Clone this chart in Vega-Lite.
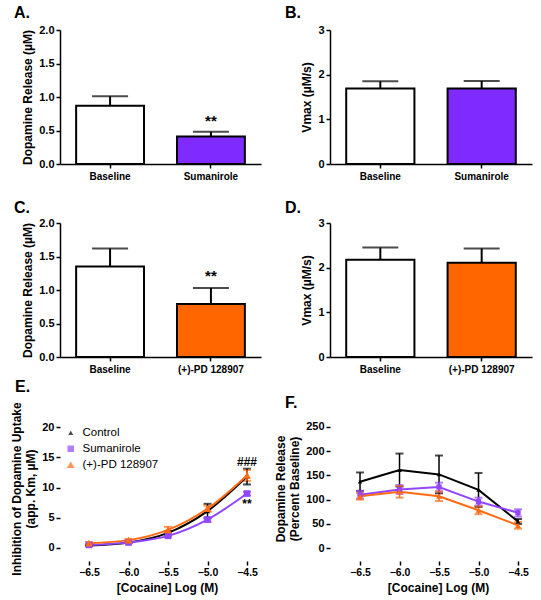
{
  "$schema": "https://vega.github.io/schema/vega-lite/v6.json",
  "padding": {"left": 10, "top": 5, "right": 5, "bottom": 5},
  "config": {
    "font": "Liberation Sans",
    "view": {"stroke": null},
    "axis": {"labelFont": "Liberation Sans", "labelFontWeight": "bold", "labelFontSize": 10, "labelColor": "#000", "titleFont": "Liberation Sans", "titleFontWeight": "bold", "titleFontSize": 12, "titleColor": "#000", "domainColor": "#000", "domainWidth": 1.5, "tickColor": "#000", "tickWidth": 1.5, "tickSize": 4, "grid": false, "labelPadding": 2, "labelOverlap": false},
    "axisY": {"labelFontSize": 11},
    "legend": {"title": null, "orient": "none", "legendX": 5, "legendY": 11, "labelFont": "Liberation Sans", "labelFontSize": 11.5, "labelFontWeight": "normal", "labelColor": "#000", "symbolSize": 256, "symbolStrokeWidth": 0, "rowPadding": 3, "labelOffset": 6},
    "title": {"font": "Liberation Sans", "fontSize": 16, "fontWeight": "bold", "color": "#000", "anchor": "start", "frame": "group"}
  },
  "datasets": {
    "barsA": [{"group": "Baseline", "mean": 0.87, "hi": 1.01}, {"group": "Sumanirole", "mean": 0.41, "hi": 0.48}],
    "starsA": [{"group": "Sumanirole", "mean": 0.64, "label": "**"}],
    "barsB": [{"group": "Baseline", "mean": 1.69, "hi": 1.85}, {"group": "Sumanirole", "mean": 1.69, "hi": 1.86}],
    "barsC": [{"group": "Baseline", "mean": 1.35, "hi": 1.62}, {"group": "(+)-PD 128907", "mean": 0.79, "hi": 1.03}],
    "starsC": [{"group": "(+)-PD 128907", "mean": 1.21, "label": "**"}],
    "barsD": [{"group": "Baseline", "mean": 2.18, "hi": 2.45}, {"group": "(+)-PD 128907", "mean": 2.11, "hi": 2.43}],
    "uptake": [
      {"series": "Control", "x": -6.5, "y": 0.4, "lo": 0.3, "hi": 0.5},
      {"series": "Control", "x": -6.0, "y": 0.9, "lo": 0.8, "hi": 1.0},
      {"series": "Control", "x": -5.5, "y": 2.5, "lo": 2.2, "hi": 2.8},
      {"series": "Control", "x": -5.0, "y": 6.1, "lo": 4.9, "hi": 7.3},
      {"series": "Control", "x": -4.5, "y": 11.8, "lo": 10.5, "hi": 13.1},
      {"series": "Sumanirole", "x": -6.5, "y": 0.5, "lo": 0.4, "hi": 0.6},
      {"series": "Sumanirole", "x": -6.0, "y": 0.9, "lo": 0.8, "hi": 1.0},
      {"series": "Sumanirole", "x": -5.5, "y": 2.0, "lo": 1.8, "hi": 2.2},
      {"series": "Sumanirole", "x": -5.0, "y": 4.7, "lo": 4.3, "hi": 5.1},
      {"series": "Sumanirole", "x": -4.5, "y": 9.0, "lo": 8.7, "hi": 9.3},
      {"series": "(+)-PD 128907", "x": -6.5, "y": 0.8, "lo": 0.6, "hi": 1.0},
      {"series": "(+)-PD 128907", "x": -6.0, "y": 1.3, "lo": 1.1, "hi": 1.5},
      {"series": "(+)-PD 128907", "x": -5.5, "y": 3.0, "lo": 2.5, "hi": 3.5},
      {"series": "(+)-PD 128907", "x": -5.0, "y": 6.5, "lo": 6.0, "hi": 7.0},
      {"series": "(+)-PD 128907", "x": -4.5, "y": 12.0, "lo": 11.1, "hi": 12.9}
    ],
    "annotE": [{"x": -4.5, "y": 14.2, "label": "###"}, {"x": -4.5, "y": 7.2, "label": "**"}],
    "release": [
      {"series": "Control", "x": -6.5, "y": 137, "lo": 118, "hi": 156},
      {"series": "Control", "x": -6.0, "y": 161, "lo": 127, "hi": 195},
      {"series": "Control", "x": -5.5, "y": 152, "lo": 113, "hi": 191},
      {"series": "Control", "x": -5.0, "y": 120, "lo": 85, "hi": 155},
      {"series": "Control", "x": -4.5, "y": 55, "lo": 50, "hi": 60},
      {"series": "Sumanirole", "x": -6.5, "y": 110, "lo": 102, "hi": 118},
      {"series": "Sumanirole", "x": -6.0, "y": 121, "lo": 112, "hi": 130},
      {"series": "Sumanirole", "x": -5.5, "y": 126, "lo": 117, "hi": 135},
      {"series": "Sumanirole", "x": -5.0, "y": 96, "lo": 88, "hi": 104},
      {"series": "Sumanirole", "x": -4.5, "y": 73, "lo": 65, "hi": 80},
      {"series": "(+)-PD 128907", "x": -6.5, "y": 107, "lo": 100, "hi": 114},
      {"series": "(+)-PD 128907", "x": -6.0, "y": 116, "lo": 104, "hi": 128},
      {"series": "(+)-PD 128907", "x": -5.5, "y": 107, "lo": 97, "hi": 117},
      {"series": "(+)-PD 128907", "x": -5.0, "y": 78, "lo": 70, "hi": 86},
      {"series": "(+)-PD 128907", "x": -4.5, "y": 47, "lo": 40, "hi": 54}
    ],
    "one": [{"axis": "line"}]
  },
  "resolve": {"scale": {"fill": "independent", "stroke": "independent", "color": "independent", "shape": "independent", "size": "independent"}},
  "bounds": "flush",
  "columns": 2,
  "spacing": {"row": 59, "column": 69},
  "concat": [
    {
      "width": 201, "height": 134,
      "title": {"text": "A.", "dx": -46, "offset": 3},
      "data": {"name": "barsA"},
      "encoding": {
        "x": {"field": "group", "type": "nominal", "sort": null, "scale": {"paddingInner": 0.327, "paddingOuter": 0.16}, "axis": {"title": null, "labelAngle": 0, "labelPadding": 3}},
        "y": {"field": "mean", "type": "quantitative", "scale": {"domain": [0, 2], "nice": false}, "axis": {"title": "Dopamine Release (µM)", "values": [0, 0.5, 1, 1.5, 2], "format": ".1f"}}
      },
      "layer": [
        {"mark": {"type": "bar", "stroke": "#000", "strokeWidth": 2},
         "encoding": {"fill": {"field": "group", "type": "nominal", "scale": {"domain": ["Baseline", "Sumanirole", "(+)-PD 128907"], "range": ["#ffffff", "#7F2BFF", "#FF6600"]}, "legend": null}}},
        {"mark": {"type": "rule", "strokeWidth": 2, "color": "#000"}, "encoding": {"y2": {"field": "hi"}}},
        {"mark": {"type": "tick", "orient": "horizontal", "size": 36, "thickness": 2, "color": "#000"}, "encoding": {"y": {"field": "hi", "type": "quantitative", "axis": {"title": "Dopamine Release (µM)", "values": [0, 0.5, 1, 1.5, 2], "format": ".1f"}}}},
        {"data": {"name": "starsA"}, "mark": {"type": "text", "fontSize": 15, "fontWeight": "bold", "color": "#000", "baseline": "middle"}, "encoding": {"text": {"field": "label"}}}
      ]
    },
    {
      "width": 202, "height": 134,
      "title": {"text": "B.", "dx": -45, "offset": 3},
      "data": {"name": "barsB"},
      "encoding": {
        "x": {"field": "group", "type": "nominal", "sort": null, "scale": {"paddingInner": 0.327, "paddingOuter": 0.16}, "axis": {"title": null, "labelAngle": 0, "labelPadding": 3}},
        "y": {"field": "mean", "type": "quantitative", "scale": {"domain": [0, 3], "nice": false}, "axis": {"title": "Vmax (µM/s)", "values": [0, 1, 2, 3]}}
      },
      "layer": [
        {"mark": {"type": "bar", "stroke": "#000", "strokeWidth": 2},
         "encoding": {"fill": {"field": "group", "type": "nominal", "scale": {"domain": ["Baseline", "Sumanirole", "(+)-PD 128907"], "range": ["#ffffff", "#7F2BFF", "#FF6600"]}, "legend": null}}},
        {"mark": {"type": "rule", "strokeWidth": 2, "color": "#000"}, "encoding": {"y2": {"field": "hi"}}},
        {"mark": {"type": "tick", "orient": "horizontal", "size": 36, "thickness": 2, "color": "#000"}, "encoding": {"y": {"field": "hi", "type": "quantitative", "axis": {"title": "Vmax (µM/s)", "values": [0, 1, 2, 3]}}}}
      ]
    },
    {
      "width": 201, "height": 134,
      "title": {"text": "C.", "dx": -46, "offset": 3, "dy": 2},
      "data": {"name": "barsC"},
      "encoding": {
        "x": {"field": "group", "type": "nominal", "sort": null, "scale": {"paddingInner": 0.327, "paddingOuter": 0.16}, "axis": {"title": null, "labelAngle": 0, "labelPadding": 3}},
        "y": {"field": "mean", "type": "quantitative", "scale": {"domain": [0, 2], "nice": false}, "axis": {"title": "Dopamine Release (µM)", "values": [0, 0.5, 1, 1.5, 2], "format": ".1f"}}
      },
      "layer": [
        {"mark": {"type": "bar", "stroke": "#000", "strokeWidth": 2},
         "encoding": {"fill": {"field": "group", "type": "nominal", "scale": {"domain": ["Baseline", "Sumanirole", "(+)-PD 128907"], "range": ["#ffffff", "#7F2BFF", "#FF6600"]}, "legend": null}}},
        {"mark": {"type": "rule", "strokeWidth": 2, "color": "#000"}, "encoding": {"y2": {"field": "hi"}}},
        {"mark": {"type": "tick", "orient": "horizontal", "size": 36, "thickness": 2, "color": "#000"}, "encoding": {"y": {"field": "hi", "type": "quantitative", "axis": {"title": "Dopamine Release (µM)", "values": [0, 0.5, 1, 1.5, 2], "format": ".1f"}}}},
        {"data": {"name": "starsC"}, "mark": {"type": "text", "fontSize": 15, "fontWeight": "bold", "color": "#000", "baseline": "middle"}, "encoding": {"text": {"field": "label"}}}
      ]
    },
    {
      "width": 202, "height": 134,
      "title": {"text": "D.", "dx": -45, "offset": 3, "dy": 2},
      "data": {"name": "barsD"},
      "encoding": {
        "x": {"field": "group", "type": "nominal", "sort": null, "scale": {"paddingInner": 0.327, "paddingOuter": 0.16}, "axis": {"title": null, "labelAngle": 0, "labelPadding": 3}},
        "y": {"field": "mean", "type": "quantitative", "scale": {"domain": [0, 3], "nice": false}, "axis": {"title": "Vmax (µM/s)", "values": [0, 1, 2, 3]}}
      },
      "layer": [
        {"mark": {"type": "bar", "stroke": "#000", "strokeWidth": 2},
         "encoding": {"fill": {"field": "group", "type": "nominal", "scale": {"domain": ["Baseline", "Sumanirole", "(+)-PD 128907"], "range": ["#ffffff", "#7F2BFF", "#FF6600"]}, "legend": null}}},
        {"mark": {"type": "rule", "strokeWidth": 2, "color": "#000"}, "encoding": {"y2": {"field": "hi"}}},
        {"mark": {"type": "tick", "orient": "horizontal", "size": 36, "thickness": 2, "color": "#000"}, "encoding": {"y": {"field": "hi", "type": "quantitative", "axis": {"title": "Vmax (µM/s)", "values": [0, 1, 2, 3]}}}}
      ]
    },
    {
      "width": 201, "height": 145,
      "title": {"text": "E.", "dx": -45, "offset": 5},
      "data": {"name": "uptake"},
      "encoding": {
        "x": {"field": "x", "type": "quantitative", "scale": {"domain": [-6.867, -4.323], "nice": false, "zero": false}, "axis": {"title": "[Cocaine] Log (M)", "values": [-6.5, -6, -5.5, -5, -4.5], "format": ".1f", "domain": false, "titleFontSize": 12, "labelFontSize": 10.5, "titleX": 107, "titlePadding": 5}},
        "y": {"field": "y", "type": "quantitative", "scale": {"domain": [-2.15, 21.82], "nice": false, "zero": false}, "axis": {"title": ["Inhibition of  Dopamine Uptake", "(app. Km, µM)"], "values": [0, 5, 10, 15, 20], "domain": false}}
      },
      "layer": [
        {"data": {"name": "one"}, "mark": {"type": "rule", "strokeWidth": 1.5, "color": "#000"}, "encoding": {"x": {"datum": -6.703}, "x2": {"datum": -4.323}, "y": {"datum": -2.15}}},
        {"data": {"name": "one"}, "mark": {"type": "rule", "strokeWidth": 1.5, "color": "#000"}, "encoding": {"x": {"datum": -6.867}, "y": {"datum": -0.1}, "y2": {"datum": 20}}},
        {"mark": {"type": "tick", "orient": "horizontal", "size": 8, "thickness": 2}, "encoding": {"y": {"field": "lo", "type": "quantitative"}, "color": {"field": "series", "type": "nominal", "scale": {"domain": ["Control", "Sumanirole", "(+)-PD 128907"], "range": ["#000000", "#9146FF", "#FF6A13"]}}}},
        {"mark": {"type": "tick", "orient": "horizontal", "size": 8, "thickness": 2}, "encoding": {"y": {"field": "hi", "type": "quantitative"}, "color": {"field": "series", "type": "nominal", "scale": {"domain": ["Control", "Sumanirole", "(+)-PD 128907"], "range": ["#000000", "#9146FF", "#FF6A13"]}}}},
        {"mark": {"type": "rule", "strokeWidth": 1.5}, "encoding": {"y": {"field": "lo", "type": "quantitative"}, "y2": {"field": "hi"}, "stroke": {"field": "series", "type": "nominal", "scale": {"domain": ["Control", "Sumanirole", "(+)-PD 128907"], "range": ["#000000", "#9146FF", "#FF6A13"]}}}},
        {"mark": {"type": "line", "strokeWidth": 2, "interpolate": "monotone"}, "encoding": {"stroke": {"field": "series", "type": "nominal", "scale": {"domain": ["Control", "Sumanirole", "(+)-PD 128907"], "range": ["#000000", "#9146FF", "#FF6A13"]}}}},
        {"mark": {"type": "point", "filled": true, "opacity": 1},
         "encoding": {
           "fill": {"field": "series", "type": "nominal", "scale": {"domain": ["Control", "Sumanirole", "(+)-PD 128907"], "range": ["#000000", "#9146FF", "#FF6A13"]}},
           "shape": {"field": "series", "type": "nominal", "scale": {"domain": ["Control", "Sumanirole", "(+)-PD 128907"], "range": ["triangle-up", "square", "triangle-up"]}},
           "size": {"field": "series", "type": "nominal", "scale": {"domain": ["Control", "Sumanirole", "(+)-PD 128907"], "range": [25, 60, 60]}}
         }},
        {"data": {"name": "annotE"}, "mark": {"type": "text", "fontSize": 12, "fontWeight": "bold", "color": "#000", "baseline": "middle"}, "encoding": {"text": {"field": "label"}}}
      ]
    },
    {
      "width": 202, "height": 145,
      "title": {"text": "F.", "dx": -45, "offset": 5},
      "data": {"name": "release"},
      "encoding": {
        "x": {"field": "x", "type": "quantitative", "scale": {"domain": [-6.88, -4.323], "nice": false, "zero": false}, "axis": {"title": "[Cocaine] Log (M)", "values": [-6.5, -6, -5.5, -5, -4.5], "format": ".1f", "domain": false, "titleFontSize": 12, "labelFontSize": 10.5, "titleX": 108, "titlePadding": 5}},
        "y": {"field": "y", "type": "quantitative", "scale": {"domain": [-26.6, 272.5], "nice": false, "zero": false}, "axis": {"title": ["Dopamine Release", "(Percent  Baseline)"], "values": [0, 50, 100, 150, 200, 250], "domain": false}}
      },
      "layer": [
        {"data": {"name": "one"}, "mark": {"type": "rule", "strokeWidth": 1.5, "color": "#000"}, "encoding": {"x": {"datum": -6.703}, "x2": {"datum": -4.323}, "y": {"datum": -26.6}}},
        {"data": {"name": "one"}, "mark": {"type": "rule", "strokeWidth": 1.5, "color": "#000"}, "encoding": {"x": {"datum": -6.88}, "y": {"datum": -1}, "y2": {"datum": 250}}},
        {"data": {"name": "one"}, "mark": {"type": "rule", "strokeWidth": 1.5, "color": "#000", "strokeDash": [2, 3]}, "encoding": {"y": {"datum": 100}}},
        {"mark": {"type": "rule", "strokeWidth": 1.5}, "encoding": {"y": {"field": "lo", "type": "quantitative"}, "y2": {"field": "hi"}, "stroke": {"field": "series", "type": "nominal", "scale": {"domain": ["Control", "Sumanirole", "(+)-PD 128907"], "range": ["#000000", "#9146FF", "#FF6A13"]}, "legend": null}}},
        {"mark": {"type": "tick", "orient": "horizontal", "size": 8, "thickness": 2}, "encoding": {"y": {"field": "lo", "type": "quantitative"}, "color": {"field": "series", "type": "nominal", "scale": {"domain": ["Control", "Sumanirole", "(+)-PD 128907"], "range": ["#000000", "#9146FF", "#FF6A13"]}, "legend": null}}},
        {"mark": {"type": "tick", "orient": "horizontal", "size": 8, "thickness": 2}, "encoding": {"y": {"field": "hi", "type": "quantitative"}, "color": {"field": "series", "type": "nominal", "scale": {"domain": ["Control", "Sumanirole", "(+)-PD 128907"], "range": ["#000000", "#9146FF", "#FF6A13"]}, "legend": null}}},
        {"mark": {"type": "line", "strokeWidth": 2}, "encoding": {"stroke": {"field": "series", "type": "nominal", "scale": {"domain": ["Control", "Sumanirole", "(+)-PD 128907"], "range": ["#000000", "#9146FF", "#FF6A13"]}, "legend": null}}},
        {"mark": {"type": "point", "filled": true, "opacity": 1},
         "encoding": {
           "fill": {"field": "series", "type": "nominal", "scale": {"domain": ["Control", "Sumanirole", "(+)-PD 128907"], "range": ["#000000", "#9146FF", "#FF6A13"]}, "legend": null},
           "shape": {"field": "series", "type": "nominal", "scale": {"domain": ["Control", "Sumanirole", "(+)-PD 128907"], "range": ["triangle-up", "square", "triangle-up"]}, "legend": null},
           "size": {"field": "series", "type": "nominal", "scale": {"domain": ["Control", "Sumanirole", "(+)-PD 128907"], "range": [20, 35, 35]}, "legend": null}
         }}
      ]
    }
  ]
}
